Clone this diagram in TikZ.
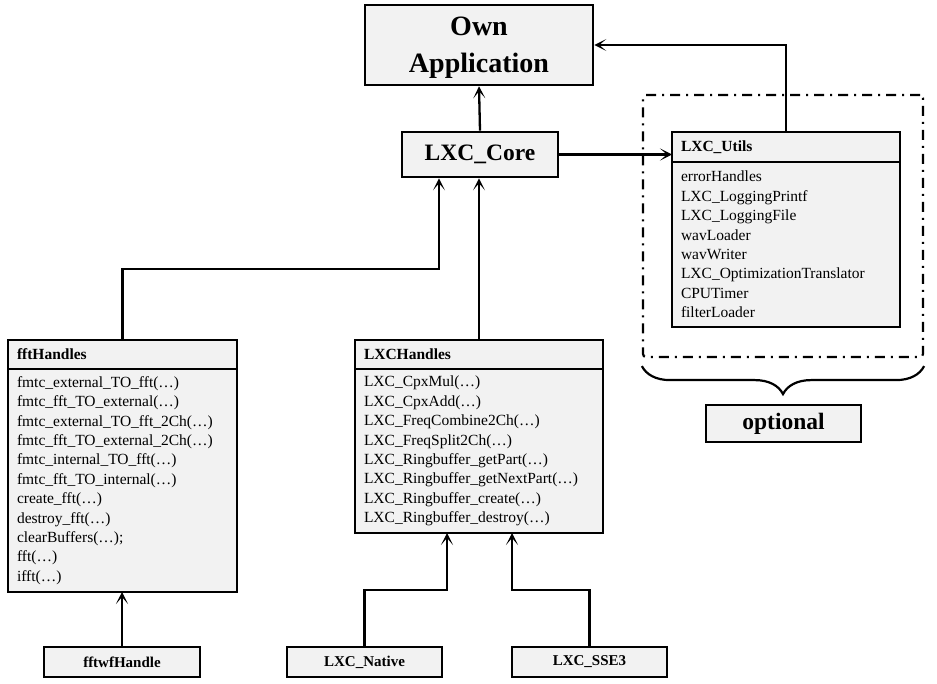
\documentclass[tikz,border=0pt]{standalone}
\usepackage{fontspec}
\setmainfont{Liberation Serif}
\usetikzlibrary{arrows.meta,decorations.pathreplacing}
\definecolor{boxfill}{HTML}{F2F2F2}
\tikzset{
  box/.style={draw, line width=2.6pt, fill=boxfill, inner sep=0pt, align=center},
  bigbox/.style={box, text depth=0pt, font=\fontsize{28}{37}\selectfont\bfseries},
  midbox/.style={box, font=\fontsize{23.5}{28}\selectfont\bfseries},
  smallbox/.style={box, font=\fontsize{15}{18}\selectfont\bfseries},
  classhead/.style={draw, line width=2.6pt, fill=boxfill, inner xsep=9pt, inner ysep=0pt,
    outer sep=0pt, align=left, font=\fontsize{15.5}{19.4}\selectfont\bfseries},
  classbody/.style={draw, line width=2.6pt, fill=boxfill, inner xsep=9pt, inner ysep=0pt,
    outer sep=0pt, align=left, anchor=north, font=\fontsize{15.5}{19.4}\selectfont},
  link/.style={line width=2.3pt, -{Stealth[length=12pt,width=12pt,inset=7pt]}},
  group/.style={draw, line width=2.2pt, rounded corners=3pt,
    dash pattern=on 10pt off 6pt on 2pt off 6pt},
}
\begin{document}
\begin{tikzpicture}[x=1pt, y=-1pt]
\useasboundingbox (0,0) rectangle (937,684);

% top level
\node[bigbox, minimum width=228pt, minimum height=80pt] (app) at (479,45) {Own\\Application};
\node[midbox, minimum width=156pt, minimum height=45pt] (core) at (480,154.5) {LXC\_Core};

% optional utilities group
\node[group, minimum width=280pt, minimum height=262pt] (grp) at (783,226) {};
\node[classhead, text width=210pt, minimum height=30pt] (uh) at (786,147) {LXC\_Utils};
\node[classbody, text width=210pt, minimum height=165pt] (ub) at (uh.south) {%
errorHandles\\
LXC\_LoggingPrintf\\
LXC\_LoggingFile\\
wavLoader\\
wavWriter\\
LXC\_OptimizationTranslator\\
CPUTimer\\
filterLoader};
\draw[line width=2.2pt, decorate, decoration={brace, mirror, amplitude=28pt, aspect=0.5}]
  ([yshift=-8pt]grp.south west) -- ([yshift=-8pt]grp.south east);
\node[midbox, minimum width=155pt, minimum height=37pt] (opt) at (783.5,423.5) {optional};

% fft handles
\node[classhead, text width=211pt, minimum height=29pt] (fh) at (122.5,354.5) {fftHandles};
\node[classbody, text width=211pt, minimum height=223pt] (fb) at (fh.south) {%
fmtc\_external\_TO\_fft(…)\\
fmtc\_fft\_TO\_external(…)\\
fmtc\_external\_TO\_fft\_2Ch(…)\\
fmtc\_fft\_TO\_external\_2Ch(…)\\
fmtc\_internal\_TO\_fft(…)\\
fmtc\_fft\_TO\_internal(…)\\
create\_fft(…)\\
destroy\_fft(…)\\
clearBuffers(…);\\
fft(…)\\
ifft(…)};

% LXC handles
\node[classhead, text width=230pt, minimum height=29pt] (lh) at (479,354.5) {LXCHandles};
\node[classbody, text width=230pt, minimum height=164pt] (lb) at (lh.south) {%
LXC\_CpxMul(…)\\
LXC\_CpxAdd(…)\\
LXC\_FreqCombine2Ch(…)\\
LXC\_FreqSplit2Ch(…)\\
LXC\_Ringbuffer\_getPart(…)\\
LXC\_Ringbuffer\_getNextPart(…)\\
LXC\_Ringbuffer\_create(…)\\
LXC\_Ringbuffer\_destroy(…)};

% implementations
\node[smallbox, minimum width=156pt, minimum height=30pt] (fftw) at (122,662) {fftwfHandle};
\node[smallbox, minimum width=155pt, minimum height=30pt] (native) at (364.5,662) {LXC\_Native};
\node[smallbox, minimum width=155pt, minimum height=30pt] (sse) at (589.5,662) {LXC\_SSE3};

% connectors
\draw[link] (core.north) -- (app.south);
\draw[link] (uh.north) |- (app.east);
\draw[link] (core.east) -- (core.east -| uh.west);
\draw[link] (fh.north) -- ++(0,-71) -| ([xshift=-41pt]core.south);
\draw[link] (lh.north) -- (lh.north |- core.south);
\draw[link] (fftw.north) -- (fftw.north |- fb.south);
\draw[link] (native.north) -- ++(0,-56) -| ([xshift=-32pt]lb.south);
\draw[link] (sse.north) -- ++(0,-56) -| ([xshift=33pt]lb.south);
\end{tikzpicture}
\end{document}
